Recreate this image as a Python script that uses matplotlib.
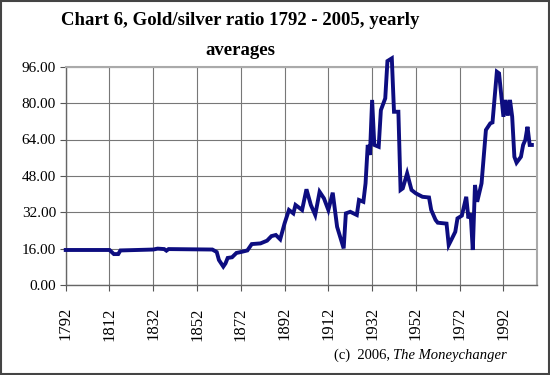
import matplotlib.pyplot as plt

years = [1792, 1812, 1814, 1816, 1817, 1832, 1834, 1837, 1838, 1839,
         1859, 1861, 1862, 1864, 1865, 1866, 1868, 1870, 1872, 1875,
         1877, 1881, 1884, 1886, 1888, 1890, 1892, 1894, 1896, 1897,
         1900, 1902, 1904, 1906, 1908, 1910, 1912, 1914, 1916, 1919,
         1920, 1922, 1925, 1926, 1928, 1929, 1930, 1931, 1932, 1933,
         1935, 1936, 1938, 1939, 1941, 1942, 1944, 1945, 1946, 1948,
         1950, 1952, 1955, 1958, 1959, 1961, 1962, 1966, 1967, 1968,
         1970, 1971, 1973, 1975, 1976, 1977, 1978, 1979, 1980, 1982,
         1984, 1986, 1987, 1989, 1990, 1992, 1993, 1994, 1995, 1996,
         1997, 1998, 2000, 2001, 2002, 2003, 2004, 2005]
ratio = [15.4, 15.4, 13.6, 13.6, 15.2, 15.6, 16.0, 15.8, 15.1, 15.8,
         15.6, 14.5, 11.0, 8.1, 9.5, 11.9, 12.2, 14.1, 14.5, 15.2,
         18.0, 18.3, 19.5, 21.5, 22.0, 20.1, 27.1, 33.0, 31.5, 35.2,
         33.0, 42.1, 35.2, 30.8, 41.0, 38.1, 33.0, 40.6, 25.6, 16.1,
         31.5, 32.2, 30.8, 37.4, 36.6, 44.7, 61.6, 57.2, 81.4, 61.6,
         60.8, 76.9, 82.1, 98.5, 99.7, 76.2, 76.2, 41.8, 42.5, 49.1,
         41.8, 40.3, 38.8, 38.5, 33.0, 28.6, 27.4, 27.0, 17.6, 19.5,
         23.4, 29.3, 30.5, 38.8, 29.3, 31.5, 15.4, 44.0, 36.6, 44.7,
         68.2, 71.1, 71.5, 93.8, 93.1, 74.0, 81.4, 74.5, 81.4, 74.0,
         56.4, 53.8, 56.4, 61.6, 63.8, 69.6, 61.6, 61.6]

yticks = [0, 16, 32, 48, 64, 80, 96]
xticks = list(range(1792, 2000, 20))

plt.rcParams['font.family'] = ['Liberation Serif', 'DejaVu Serif']

fig = plt.figure(figsize=(5.5, 3.75), dpi=100)
ax = fig.add_axes([0.1195, 0.24, 0.8575, 0.582])

ax.plot(years, ratio, color='#0d0d80', linewidth=2.8, clip_on=False,
        solid_joinstyle='miter', zorder=3)

ax.set_xlim(1792, 2007.5)
ax.set_ylim(0, 96)
ax.set_yticks(yticks)
ax.set_yticklabels([f'{v:.2f}' for v in yticks], fontsize=11)
ax.set_xticks(xticks)
ax.set_xticklabels([str(y) for y in xticks], rotation=90, fontsize=12)
ax.tick_params(axis='y', direction='out', length=4, width=0.8, color='#555555', pad=3)
ax.tick_params(axis='x', direction='out', length=4, width=0.8, color='#555555', pad=12)
ax.grid(True, color='#777777', linewidth=0.8)
ax.set_axisbelow(True)
for side in ['top', 'right']:
    ax.spines[side].set_color('#aaaaaa')
    ax.spines[side].set_linewidth(1.5)
for side in ['left', 'bottom']:
    ax.spines[side].set_color('#666666')
    ax.spines[side].set_linewidth(1.0)

fig.text(0.437, 0.945, 'Chart 6, Gold/silver ratio 1792 - 2005, yearly',
         ha='center', va='center', fontsize=13.5, fontweight='bold')
fig.text(0.437, 0.865, 'averages', ha='center', va='center',
         fontsize=13.5, fontweight='bold')

# credit line: italic name right-aligned, plain part placed just left of it
name = fig.text(0.922, 0.053, 'The Moneychanger', ha='right', va='center',
                fontsize=10.5, style='italic')
renderer = fig.canvas.get_renderer()
left_px = name.get_window_extent(renderer).x0
fig.text(left_px / fig.bbox.width, 0.053, '(c)  2006, ', ha='right', va='center',
         fontsize=10.5)

fig.patches.append(plt.Rectangle((0.002, 0.003), 0.996, 0.994, transform=fig.transFigure,
                                 fill=False, edgecolor='#444444', linewidth=1.5))

fig.savefig('out.png', dpi=100)
